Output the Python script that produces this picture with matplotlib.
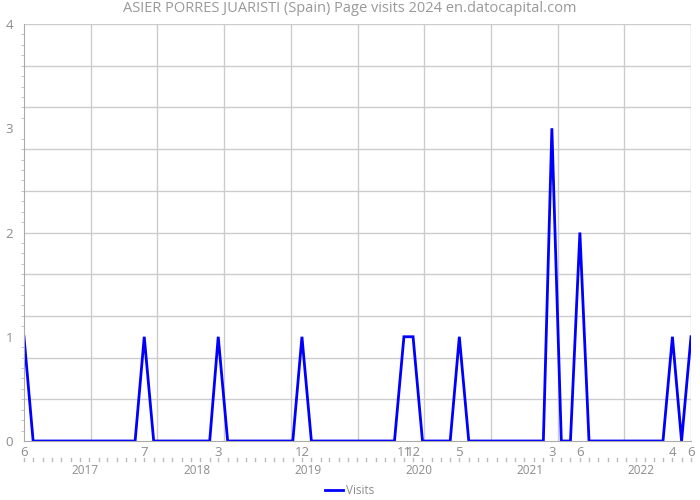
import matplotlib
matplotlib.use("Agg")
import matplotlib.pyplot as plt
import matplotlib.dates as mdates
import matplotlib.transforms as mtransforms
import pandas as pd
import numpy as np

plt.rcParams['font.family'] = ['Open Sans', 'DejaVu Sans']

title = "ASIER PORRES JUARISTI (Spain) Page visits 2024 en.datocapital.com"
months = pd.date_range('2016-06-01', '2022-06-01', freq='MS')
visits = [0] * len(months)
peaks = {
    '2016-06': 1, '2017-07': 1, '2018-03': 1, '2018-12': 1,
    '2019-11': 1, '2019-12': 1, '2020-05': 1, '2021-03': 3,
    '2021-06': 2, '2022-04': 1, '2022-06': 1,
}
for i, m in enumerate(months):
    key = m.strftime('%Y-%m')
    if key in peaks:
        visits[i] = peaks[key]
years = [2017, 2018, 2019, 2020, 2021, 2022]
series_name = "Visits"

grey = '#8c8c8c'
fig = plt.figure(figsize=(7, 5), dpi=100)
ax = fig.add_axes([24/700, 1 - 441/500, (691-24)/700, (441-24)/500])

ax.plot(months, visits, color='#0000ff', lw=2, label=series_name, solid_joinstyle='miter')
ax.set_xlim(months[0], months[-1])
ax.set_ylim(0, 4)

# grid: 10 equal divisions each way
xl = ax.get_xlim()
for v in np.linspace(xl[0], xl[1], 11)[1:]:
    ax.axvline(v, color='#cccccc', lw=1, zorder=0)
for v in np.linspace(0, 4, 11)[1:]:
    ax.axhline(v, color='#cccccc', lw=1, zorder=0)

ax.set_yticks([0, 1, 2, 3, 4])
ax.set_yticks(np.arange(0, 4.01, 0.1), minor=True)
ax.tick_params(axis='y', which='major', length=0, labelsize=9.5, colors=grey, pad=8)
ax.tick_params(axis='y', which='minor', length=2, direction='out', color='#bbbbbb')
ax.set_xticks([])
for s in ['top', 'right']:
    ax.spines[s].set_visible(False)
for s in ['left', 'bottom']:
    ax.spines[s].set_color('#aaaaaa')

trans = mtransforms.blended_transform_factory(ax.transData, ax.transAxes)
# month labels at non-zero months
for m, v in zip(months, visits):
    if v > 0:
        ax.text(mdates.date2num(m), -0.012, str(m.month), transform=trans,
                ha='center', va='top', fontsize=9.5, color=grey)
# monthly minor ticks
for m in months:
    ax.plot([mdates.date2num(m)] * 2, [-0.041, -0.049], transform=trans,
            color='#bbbbbb', lw=1, clip_on=False)
# year labels
for y in years:
    x = mdates.date2num(pd.Timestamp(f'{y-1}-12-20'))
    ax.text(x, -0.055, str(y), transform=trans, ha='center', va='top',
            fontsize=8.5, color=grey)

fig.suptitle(title, y=0.997, va='top', fontsize=10.5, color='#999999')
leg = fig.legend(loc='lower center', bbox_to_anchor=(0.5, -0.015), frameon=False,
                 fontsize=8.5, handlelength=1.5, handletextpad=0.3)
for t in leg.get_texts():
    t.set_color(grey)

fig.savefig('out.png', dpi=100)
